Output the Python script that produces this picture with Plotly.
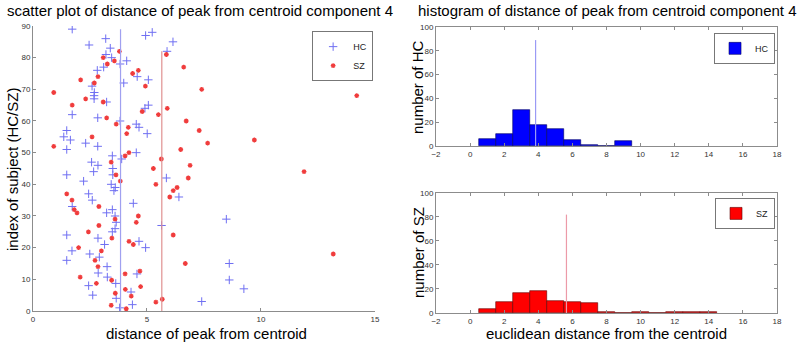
import plotly.graph_objects as go

# ---------------- data ----------------
hc_x = [1.72, 5.23, 4.94, 3.19, 6.14, 2.46, 3.39, 5.88, 3.20, 3.45, 4.11, 3.82, 3.10, 2.82,
        4.57, 5.06, 3.98, 2.59, 2.69, 2.68, 2.68, 3.23, 5.06, 4.91, 1.72, 2.84, 3.82, 4.53,
        4.65, 1.48, 5.01, 1.35, 1.64, 2.31, 2.84, 1.48, 4.53, 3.48, 3.89, 2.57, 2.85, 3.50,
        2.66, 1.48, 3.50, 5.85, 2.22, 3.43, 3.61, 3.55, 2.44, 6.40, 2.60, 4.40, 1.72, 3.48,
        3.23, 3.60, 8.48, 3.65, 5.64, 3.60, 3.48, 1.48, 2.85, 4.65, 3.14, 4.94, 1.71, 2.49,
        2.91, 1.48, 8.61, 3.25, 2.86, 4.56, 3.26, 8.61, 3.63, 2.44, 9.25, 4.30, 2.62, 3.65,
        7.40, 4.36, 3.80]
hc_y = [89, 88, 87, 86, 85, 84, 83, 82, 81, 80, 79, 78, 77, 76,
        74, 73, 72, 71, 69, 68, 67, 66, 65, 64, 62, 61, 60, 59,
        58, 57, 56, 55, 54, 53, 52, 51, 50, 49, 48, 47, 46, 45,
        44, 43, 43, 42, 41, 40, 39, 38, 37, 36, 35, 34, 33, 32,
        31, 30, 29, 28, 27, 26, 25, 24, 23, 22, 21, 20, 19, 18,
        17, 16, 15, 14, 12, 11.7, 10.7, 9.8, 8.7, 8, 7, 6, 5, 4,
        3, 2, 1]

sz_x = [3.79, 5.85, 3.08, 3.57, 3.26, 6.61, 4.62, 4.37, 2.85, 2.09, 2.69, 4.93, 7.40, 0.91,
        14.2, 2.31, 3.08, 1.72, 5.89, 4.79, 5.50, 3.23, 6.72, 3.65, 4.18, 7.29, 4.11, 2.59,
        9.71, 7.66, 0.91, 6.48, 4.21, 4.04, 5.63, 3.43, 6.89, 5.28, 11.89, 3.64, 6.81, 3.83,
        5.39, 6.32, 6.15, 1.48, 6.00, 1.71, 2.89, 1.81, 1.93, 4.62, 3.60, 4.53, 2.89, 2.43,
        6.15, 3.46, 4.21, 4.40, 2.00, 3.00, 13.17, 2.72, 6.68, 2.85, 4.69, 4.04, 2.07, 3.45,
        2.78, 4.72, 4.05, 3.61, 4.31, 5.67, 5.39, 3.43, 4.09]
sz_y = [82, 81, 80, 79, 78, 77, 76, 75, 74, 73, 72, 71, 70, 69,
        68, 67, 66, 65, 64, 63, 62, 61, 60, 59, 58, 57, 56, 55,
        54, 53, 52, 51, 50, 49, 48, 47, 46, 45, 44, 43, 42, 41,
        40, 39, 38, 37, 36, 35, 33, 32, 31, 30, 29, 28, 27, 25,
        24, 23, 22, 21, 20, 19, 18, 16, 15, 14, 12.6, 11.7, 10.7, 9.7,
        8.7, 7.7, 6.8, 5.6, 4.7, 3.7, 2.8, 1.8, 0.7]

hc_mean = 3.84
sz_mean = 5.65
hc_n = 89
sz_n = 82

hc_bins = [1, 2, 3, 4, 5, 6, 7, 8, 9]
hc_counts = [6, 10, 30, 18, 14, 5, 1, 0, 4]
sz_bins = [1, 2, 3, 4, 5, 6, 7, 8, 9, 10, 11, 12, 13, 14]
sz_counts = [3, 9, 17, 18, 10, 9, 8, 1, 0, 1, 0, 1, 1, 1]

# ---------------- styles ----------------
FONT = "Liberation Sans, Arial, sans-serif"
AX = "#8c8c8c"
TICKF = dict(family=FONT, size=8, color="#333333")
HC_PT = "#6f6ff2"
SZ_PT = "#f03c3c"

fig = go.Figure()

# scatter plot
fig.add_trace(go.Scatter(x=hc_x, y=hc_y, mode="markers", name="HC",
                         marker=dict(symbol="cross-thin", size=6, line=dict(width=1, color=HC_PT)),
                         xaxis="x", yaxis="y", legend="legend"))
fig.add_trace(go.Scatter(x=sz_x, y=sz_y, mode="markers", name="SZ",
                         marker=dict(symbol="asterisk", size=4, line=dict(width=1.3, color=SZ_PT)),
                         xaxis="x", yaxis="y", legend="legend"))
fig.add_trace(go.Scatter(x=[hc_mean, hc_mean], y=[0, hc_n], mode="lines", showlegend=False,
                         line=dict(color="#a0a0f0", width=1.2), xaxis="x", yaxis="y"))
fig.add_trace(go.Scatter(x=[sz_mean, sz_mean], y=[0, sz_n], mode="lines", showlegend=False,
                         line=dict(color="#e09090", width=1.2), xaxis="x", yaxis="y"))

# histogram HC
fig.add_trace(go.Bar(x=hc_bins, y=hc_counts, width=1, name="HC",
                     marker=dict(color="#0000ff", line=dict(color="#000060", width=0.6)),
                     xaxis="x2", yaxis="y2", legend="legend2"))
fig.add_trace(go.Scatter(x=[hc_mean, hc_mean], y=[0, hc_n], mode="lines", showlegend=False,
                         line=dict(color="#9a9af5", width=1.2), xaxis="x2", yaxis="y2"))

# histogram SZ
fig.add_trace(go.Bar(x=sz_bins, y=sz_counts, width=1, name="SZ",
                     marker=dict(color="#ff0000", line=dict(color="#600000", width=0.6)),
                     xaxis="x3", yaxis="y3", legend="legend3"))
fig.add_trace(go.Scatter(x=[sz_mean, sz_mean], y=[0, sz_n], mode="lines", showlegend=False,
                         line=dict(color="#ec9aa8", width=1.2), xaxis="x3", yaxis="y3"))

common = dict(showline=True, linecolor=AX, linewidth=1, ticks="inside", ticklen=3,
              tickcolor=AX, tickfont=TICKF, showgrid=False, zeroline=False, automargin=False)

legend_common = dict(bgcolor="white", bordercolor="#777777", borderwidth=1,
                     font=dict(family=FONT, size=9, color="#222"),
                     xanchor="right", yanchor="top", itemsizing="trace",
                     tracegroupgap=0, itemwidth=30)

fig.update_layout(
    width=799, height=346,
    margin=dict(l=0, r=0, t=0, b=0, autoexpand=False),
    paper_bgcolor="white", plot_bgcolor="white",
    bargap=0,
    xaxis=dict(domain=[0.0413, 0.4693], range=[0, 15], tickvals=[0, 5, 10, 15],
               anchor="y", **common),
    yaxis=dict(domain=[0.1012, 0.9249], range=[0, 90], tickvals=list(range(0, 91, 10)),
               anchor="x", **common),
    xaxis2=dict(domain=[0.5457, 0.9725], range=[-2, 18], tickvals=list(range(-2, 19, 2)),
                anchor="y2", mirror="ticks", **common),
    yaxis2=dict(domain=[0.578, 0.922], range=[0, 100], tickvals=list(range(0, 101, 20)),
                anchor="x2", mirror="ticks", **common),
    xaxis3=dict(domain=[0.5457, 0.9725], range=[-2, 18], tickvals=list(range(-2, 19, 2)),
                anchor="y3", mirror="ticks", **common),
    yaxis3=dict(domain=[0.0954, 0.4422], range=[0, 100], tickvals=list(range(0, 101, 20)),
                anchor="x3", mirror="ticks", **common),
    legend=dict(x=0.467, y=0.91, **legend_common),
    legend2=dict(x=0.97, y=0.905, **legend_common),
    legend3=dict(x=0.97, y=0.428, **legend_common),
    showlegend=True,
)

ann = [
    dict(text="scatter plot of distance of peak from centroid component 4", x=200, y=11, size=15, anchor="center"),
    dict(text="histogram of distance of peak from centroid component 4", x=607, y=11, size=15, anchor="center"),
    dict(text="distance of peak from centroid", x=206, y=333, size=15, anchor="center"),
    dict(text="euclidean distance from the centroid", x=606, y=333, size=15, anchor="center"),
]
for a in ann:
    fig.add_annotation(text=a["text"], x=a["x"] / 799, y=1 - a["y"] / 346, xref="paper", yref="paper",
                       showarrow=False, xanchor=a["anchor"], yanchor="middle",
                       font=dict(family=FONT, size=a["size"], color="black"))

vann = [
    dict(text="index of subject (HC/SZ)", x=12, y=170),
    dict(text="number of HC", x=418, y=87),
    dict(text="number of SZ", x=418, y=253),
]
for a in vann:
    fig.add_annotation(text=a["text"], x=a["x"] / 799, y=1 - a["y"] / 346, xref="paper", yref="paper",
                       showarrow=False, xanchor="center", yanchor="middle", textangle=-90,
                       font=dict(family=FONT, size=15, color="black"))

fig.write_html("out.html", config={"displayModeBar": False},
               post_script="document.body.style.margin='0px';document.body.style.overflow='hidden';")
